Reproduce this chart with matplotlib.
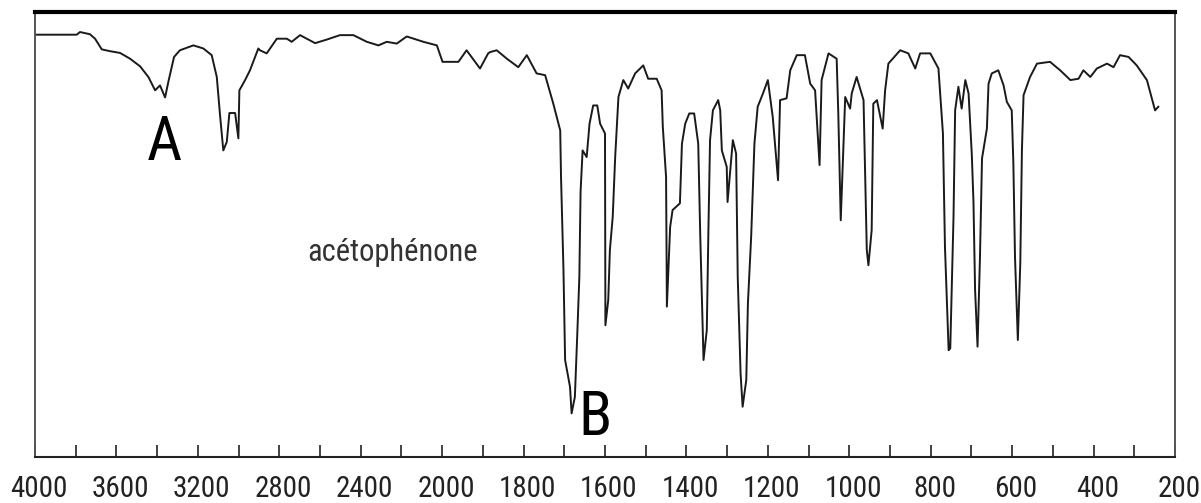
import numpy as np
import matplotlib
matplotlib.use("Agg")
import matplotlib.pyplot as plt
from matplotlib.transforms import ScaledTranslation

# IR spectrum of acetophenone
wavenumber = [
    4000, 3795, 3779, 3730, 3705, 3672, 3632, 3582, 3533, 3484, 3443, 3410,
    3386, 3361, 3345, 3317, 3288, 3222, 3173, 3132, 3107, 3091, 3075, 3058,
    3045, 3017, 3001, 2996, 2968, 2944, 2903, 2895, 2862, 2812, 2763, 2739,
    2698, 2624, 2567, 2502, 2436, 2370, 2313, 2272, 2223, 2174, 2092, 2026,
    1999, 1960, 1940, 1907, 1887, 1882, 1866, 1841, 1813, 1792, 1768, 1747,
    1727, 1710, 1708, 1702, 1698, 1686, 1682, 1674, 1668, 1663, 1660, 1655,
    1645, 1638, 1629, 1619, 1612, 1600, 1599, 1592, 1588, 1581, 1575, 1567,
    1555, 1543, 1526, 1506, 1494, 1473, 1461, 1458, 1450, 1448, 1440, 1434,
    1416, 1411, 1403, 1393, 1381, 1371, 1366, 1358, 1350, 1346, 1342, 1335,
    1322, 1317, 1313, 1301, 1299, 1286, 1278, 1274, 1267, 1262, 1253, 1249,
    1241, 1233, 1225, 1212, 1200, 1188, 1175, 1170, 1154, 1145, 1129, 1109,
    1096, 1084, 1073, 1068, 1051, 1031, 1027, 1021, 1010, 998, 994, 982,
    965, 957, 953, 945, 941, 932, 918, 912, 904, 875, 855, 838,
    826, 801, 781, 770, 765, 756, 752, 748, 744, 740, 732, 724,
    715, 707, 699, 695, 691, 685, 679, 674, 662, 658, 650, 634,
    621, 613, 601, 597, 593, 586, 580, 576, 572, 556, 539, 507,
    482, 457, 437, 425, 408, 392, 367, 351, 335, 314, 294, 269,
    257, 249, 241,
]
transmittance = [
    94.9, 94.9, 95.5, 95.0, 94.0, 91.6, 91.2, 90.8, 89.5, 87.8, 85.4, 82.4,
    83.5, 80.8, 84.3, 89.9, 91.4, 92.5, 91.8, 90.3, 85.4, 76.8, 68.9, 70.8,
    77.3, 77.3, 71.6, 82.4, 84.7, 86.9, 91.8, 91.4, 90.7, 94.0, 94.0, 93.3,
    94.8, 93.0, 93.8, 94.8, 94.8, 93.3, 92.5, 93.3, 92.9, 94.5, 93.3, 92.5,
    88.8, 88.8, 91.4, 87.3, 90.7, 91.0, 91.4, 89.5, 87.6, 90.3, 86.2, 85.8,
    79.4, 73.4, 62.9, 42.0, 21.8, 15.8, 9.8, 13.5, 27.8, 40.5, 59.6, 68.9,
    67.4, 74.9, 79.0, 79.0, 74.9, 72.7, 29.6, 35.3, 46.5, 54.0, 67.4, 80.9,
    84.7, 82.8, 86.2, 88.0, 85.0, 85.0, 82.4, 74.2, 62.9, 33.8, 51.7, 55.5,
    57.0, 70.4, 74.9, 77.2, 77.2, 70.4, 49.5, 21.8, 28.5, 51.0, 71.2, 77.9,
    80.2, 77.9, 68.9, 65.2, 57.3, 71.2, 68.2, 40.5, 18.8, 11.3, 17.3, 34.5,
    49.5, 70.4, 78.7, 81.7, 84.7, 76.4, 62.2, 80.2, 80.6, 86.9, 90.3, 90.3,
    83.9, 82.4, 65.6, 84.7, 90.7, 89.5, 77.2, 53.2, 80.9, 78.3, 81.7, 85.4,
    80.2, 46.5, 43.1, 51.0, 79.4, 80.2, 73.8, 82.4, 88.4, 91.4, 90.7, 87.3,
    90.7, 90.7, 87.3, 72.7, 47.2, 24.0, 24.4, 39.0, 54.0, 77.9, 83.2, 78.3,
    84.7, 81.7, 67.8, 57.3, 37.5, 24.8, 45.0, 67.1, 73.8, 83.9, 86.2, 86.9,
    83.5, 79.8, 77.9, 66.0, 45.0, 26.3, 43.5, 68.9, 81.3, 85.4, 88.4, 88.8,
    86.9, 84.7, 85.0, 86.9, 85.4, 87.3, 88.4, 87.6, 90.3, 89.9, 88.0, 84.7,
    80.6, 77.9, 78.7,
]

major_ticks = [4000, 3600, 3200, 2800, 2400, 2000, 1800, 1600, 1400, 1200,
               1000, 800, 600, 400, 200]
tick_labels = ["4000", "3600", "3200", "2800", "2400", "2000", "1800", "1600",
               "1400", "1200", "1000", "800", "600", "400", "200"]
minor_ticks = [3800, 3400, 3000, 2600, 2200, 1900, 1700, 1500, 1300, 1100,
               900, 700, 500, 300]

FONT = ["Roboto Condensed", "DejaVu Sans"]


# the chart is compressed by half above 2000 cm-1
def forward(w):
    w = np.asarray(w, dtype=float)
    return np.where(w > 2000, 2000 + (w - 2000) / 2, w)


def inverse(v):
    v = np.asarray(v, dtype=float)
    return np.where(v > 2000, 2000 + (v - 2000) * 2, v)


fig = plt.figure(figsize=(12.01, 5.03), dpi=100)
ax = fig.add_axes([35 / 1201, 1 - 457 / 503, 1140 / 1201, 445 / 503])
ax.set_xscale("function", functions=(forward, inverse))

ax.plot(wavenumber, transmittance, color="#1a1a1a", lw=1.4)

ax.set_xlim(4000, 200)
ax.set_ylim(0, 100)
ax.set_xticks(major_ticks)
ax.set_xticklabels(tick_labels, family=FONT, fontsize=21, color="#222222")
ax.set_xticks(minor_ticks, minor=True)
ax.set_yticks([])
ax.tick_params(axis="x", which="both", direction="in", length=8.5, width=1.2,
               color="#222222", pad=13)
shift = ScaledTranslation(4 / 100, 0, fig.dpi_scale_trans)
for lbl in ax.get_xticklabels():
    lbl.set_transform(lbl.get_transform() + shift)

ax.spines["top"].set_linewidth(3.0)
ax.spines["top"].set_color("black")
for side in ["left", "right"]:
    ax.spines[side].set_linewidth(1.4)
    ax.spines[side].set_color("#555555")
ax.spines["bottom"].set_linewidth(1.5)
ax.spines["bottom"].set_color("#222222")

ax.text(3366, 66.7, "A", family=FONT, fontsize=44, ha="center", va="baseline")
ax.text(1624, 4.9, "B", family=FONT, fontsize=44, ha="center", va="baseline")
ax.text(2244, 44.0, "acétophénone", family=FONT, fontsize=22, color="#333333",
        ha="center", va="baseline")

fig.savefig("out.png", dpi=100)
